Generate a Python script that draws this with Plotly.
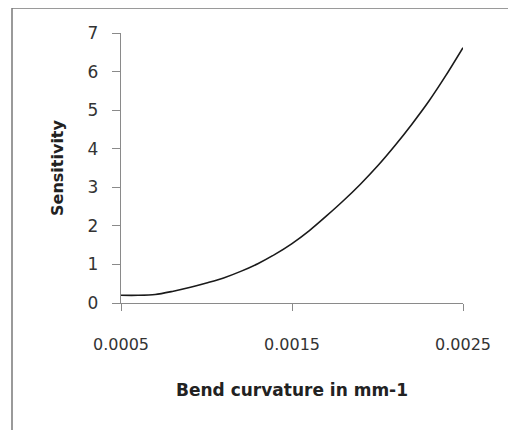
import plotly.graph_objects as go

# Data
curvature = [0.0005, 0.0006, 0.0007, 0.0008, 0.0009, 0.0010, 0.0011, 0.0012,
             0.0013, 0.0014, 0.0015, 0.0016, 0.0017, 0.0018, 0.0019, 0.0020,
             0.0021, 0.0022, 0.0023, 0.0024, 0.0025]
sensitivity = [0.20, 0.20, 0.22, 0.30, 0.40, 0.52, 0.65, 0.82,
               1.02, 1.26, 1.54, 1.87, 2.25, 2.65, 3.08, 3.55,
               4.07, 4.63, 5.23, 5.90, 6.62]
x_tick_vals = [0.0005, 0.0015, 0.0025]
x_tick_text = ["0.0005", "0.0015", "0.0025"]
y_tick_vals = [0, 1, 2, 3, 4, 5, 6, 7]

FONT = "DejaVu Sans"
AX = "#8a8a8a"

fig = go.Figure()
fig.add_trace(go.Scatter(
    x=curvature, y=sensitivity, mode="lines",
    line=dict(color="#1a1a1a", width=1.6, shape="spline", smoothing=0.8),
    showlegend=False, hoverinfo="skip",
))

fig.update_layout(
    width=508, height=422,
    margin=dict(l=113, r=53, t=25, b=127, autoexpand=False),
    paper_bgcolor="white", plot_bgcolor="white",
    font=dict(family=FONT, size=15, color="#222222"),
    xaxis=dict(
        range=[0.0005, 0.0025], tickvals=x_tick_vals, ticktext=x_tick_text,
        showgrid=False, zeroline=False, showline=True, linecolor=AX, linewidth=1.3,
        ticks="outside", ticklen=7, tickcolor=AX, tickwidth=1.3,
        ticklabelstandoff=20,
        tickfont=dict(family=FONT, size=16, color="#333333"),
        title=dict(text="<b>Bend curvature in mm-1</b>", standoff=30,
                   font=dict(family=FONT, size=17, color="#222222")),
        automargin=False,
    ),
    yaxis=dict(
        range=[0, 7], tickvals=y_tick_vals,
        showgrid=False, zeroline=False, showline=True, linecolor=AX, linewidth=1.3,
        ticks="outside", ticklen=8, tickcolor=AX, tickwidth=1.3,
        ticklabelstandoff=10,
        tickfont=dict(family=FONT, size=17, color="#333333"),
        title=dict(text="<b>Sensitivity</b>", standoff=20,
                   font=dict(family=FONT, size=16, color="#222222")),
        automargin=False,
    ),
    shapes=[dict(
        type="rect", xref="paper", yref="paper",
        x0=(12 - 121) / 342, x1=(514 - 121) / 342,
        y0=-0.6, y1=(303 - 8) / 270,
        line=dict(color="#7a7a7a", width=1.5), fillcolor="rgba(0,0,0,0)",
        layer="below",
    )],
)

fig.write_html("out.html")
